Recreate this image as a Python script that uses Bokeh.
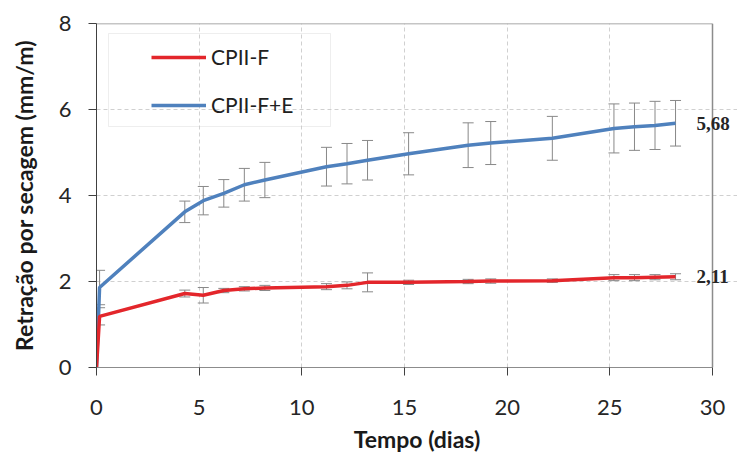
from bokeh.plotting import figure
from bokeh.models import (ColumnDataSource, Whisker, TeeHead, Legend, LegendItem,
                          Label, BoxAnnotation, FixedTicker)
from bokeh.embed import file_html
from bokeh.resources import INLINE

# ---- data ----
tempo = [0, 0.15, 4.3, 5.2, 6.2, 7.2, 8.2, 11.2, 12.2, 13.2, 15.2, 18.1, 19.2, 22.2, 25.2, 26.2, 27.2, 28.2]
cpii_f = [0, 1.19, 1.72, 1.68, 1.79, 1.83, 1.85, 1.88, 1.91, 1.98, 1.98, 2.00, 2.01, 2.02, 2.09, 2.09, 2.10, 2.11]
cpii_f_err = [0, 0.20, 0.08, 0.18, 0.05, 0.05, 0.06, 0.07, 0.08, 0.22, 0.05, 0.05, 0.05, 0.04, 0.07, 0.07, 0.06, 0.07]
cpii_fe = [0, 1.86, 3.62, 3.88, 4.05, 4.25, 4.36, 4.67, 4.74, 4.82, 4.97, 5.17, 5.22, 5.33, 5.56, 5.60, 5.63, 5.68]
cpii_fe_err = [0, 0.40, 0.25, 0.33, 0.32, 0.38, 0.41, 0.45, 0.47, 0.46, 0.49, 0.52, 0.50, 0.51, 0.57, 0.55, 0.56, 0.53]
series_names = ["CPII-F", "CPII-F+E"]
x_ticks = [0, 5, 10, 15, 20, 25, 30]
y_ticks = [0, 2, 4, 6, 8]

RED = "#E3262B"
BLUE = "#4F81BD"
GRAY = "#888888"
GRID = "#D0D0D0"
BORDER = "#8C8C8C"

PLOT_W = 616          # width of the 0..30 day area in pixels
FRAME_W = 641         # frame extends to the right so the end labels are visible
x_end = x_ticks[-1] * FRAME_W / PLOT_W

p = figure(output_backend="svg", toolbar_location=None,
           x_range=(x_ticks[0], x_end), y_range=(y_ticks[0], y_ticks[-1]),
           frame_width=FRAME_W, frame_height=344,
           min_border_left=96, min_border_right=0,
           min_border_top=23, min_border_bottom=88)

p.background_fill_color = "white"
p.border_fill_color = "white"
p.outline_line_color = None

# axes
p.xaxis.ticker = FixedTicker(ticks=x_ticks)
p.yaxis.ticker = FixedTicker(ticks=y_ticks)
p.xaxis.bounds = (x_ticks[0], x_ticks[-1])
for ax in (p.xaxis, p.yaxis):
    ax.minor_tick_line_color = None
    ax.major_tick_in = 0
    ax.major_tick_out = 8
    ax.major_label_text_font = "Lato"
    ax.major_label_text_font_size = "22px"
    ax.major_label_text_color = "#262626"
    ax.axis_label_text_font = "Lato"
    ax.axis_label_text_font_style = "bold"
    ax.axis_label_text_font_size = "23px"
    ax.axis_label_text_color = "#1A1A1A"
p.xaxis.axis_line_color = BORDER
p.xaxis.major_tick_line_color = "#404040"
p.yaxis.axis_line_color = "#404040"
p.yaxis.major_tick_line_color = "#404040"
p.xaxis.major_label_standoff = 24
p.yaxis.major_label_standoff = 17
p.xaxis.axis_label = "Tempo (dias)"
p.yaxis.axis_label = "Retração por secagem (mm/m)"
p.xaxis.axis_label_standoff = 7
p.yaxis.axis_label_standoff = 18

# grid
p.xgrid.ticker = FixedTicker(ticks=x_ticks[1:-1])
p.ygrid.ticker = FixedTicker(ticks=y_ticks[1:-1])
p.xgrid.bounds = (y_ticks[0], y_ticks[-1])
p.ygrid.bounds = (x_ticks[0], x_ticks[-1])
for g in (p.xgrid, p.ygrid):
    g.grid_line_color = GRID
    g.grid_line_dash = "4 3"
    g.grid_line_width = 1

# plot-area border (top and right)
p.segment(x0=[x_ticks[0], x_ticks[-1]], y0=[y_ticks[-1], y_ticks[0]],
          x1=[x_ticks[-1], x_ticks[-1]], y1=[y_ticks[-1], y_ticks[-1]],
          line_color=BORDER, line_width=1.5)

src_f = ColumnDataSource(dict(
    t=tempo, v=cpii_f,
    lo=[v - e for v, e in zip(cpii_f, cpii_f_err)],
    hi=[v + e for v, e in zip(cpii_f, cpii_f_err)]))
src_fe = ColumnDataSource(dict(
    t=tempo, v=cpii_fe,
    lo=[v - e for v, e in zip(cpii_fe, cpii_fe_err)],
    hi=[v + e for v, e in zip(cpii_fe, cpii_fe_err)]))

err_f = ColumnDataSource(dict(t=tempo[1:], lo=src_f.data["lo"][1:], hi=src_f.data["hi"][1:]))
err_fe = ColumnDataSource(dict(t=tempo[1:], lo=src_fe.data["lo"][1:], hi=src_fe.data["hi"][1:]))

r_fe = p.line("t", "v", source=src_fe, line_color=BLUE, line_width=3.5)
r_f = p.line("t", "v", source=src_f, line_color=RED, line_width=3.5)

for es in (err_fe, err_f):
    w = Whisker(base="t", upper="hi", lower="lo", source=es, dimension="height",
                line_color=GRAY, line_width=1,
                upper_head=TeeHead(size=11, line_color=GRAY, line_width=1),
                lower_head=TeeHead(size=11, line_color=GRAY, line_width=1))
    p.add_layout(w)

# end labels
for vals in (cpii_fe, cpii_f):
    p.add_layout(Label(x=tempo[-1], y=vals[-1], x_offset=21,
                       text=f"{vals[-1]:.2f}".replace(".", ","),
                       text_font="Liberation Serif", text_font_size="19px",
                       text_font_style="bold",
                       text_color="#262626", text_baseline="middle", text_align="left"))

# legend frame (screen units, relative to the plot frame)
p.add_layout(BoxAnnotation(left=12, right=234, top=334, bottom=241,
                           left_units="screen", right_units="screen",
                           top_units="screen", bottom_units="screen",
                           fill_alpha=0, line_color="#C8C8C8", line_width=1))

legend = Legend(items=[LegendItem(label=series_names[0], renderers=[r_f]),
                       LegendItem(label=series_names[1], renderers=[r_fe])],
                location=(55, 250), orientation="vertical",
                glyph_width=55, glyph_height=24, spacing=23, padding=0, margin=0,
                label_standoff=5, label_text_font="Lato", label_text_font_size="21px",
                label_text_color="#202020",
                border_line_alpha=0, background_fill_alpha=0)
p.add_layout(legend)

open("out.html", "w").write(file_html(p, INLINE))
